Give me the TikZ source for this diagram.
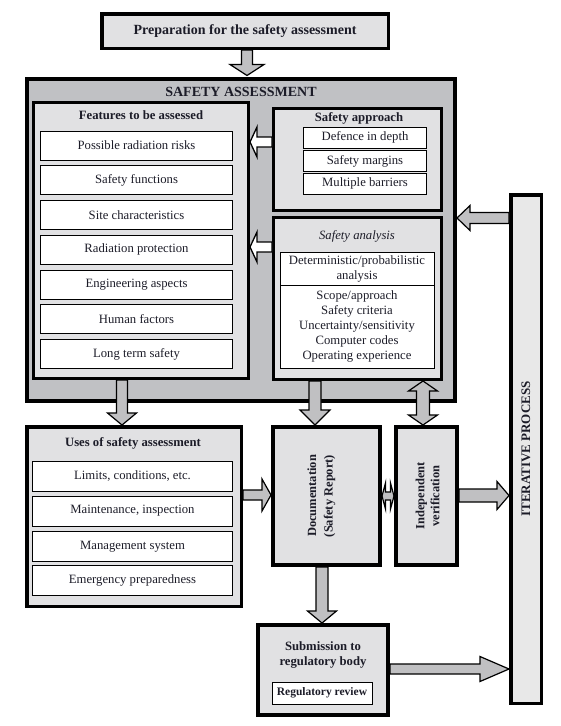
\documentclass[tikz,border=0pt]{standalone}
\usepackage{fontspec}
\setmainfont{Liberation Serif}
\usepackage{graphicx}
\usetikzlibrary{calc}
\definecolor{sagray}{HTML}{C0C1C4}
\definecolor{boxgray}{HTML}{E1E1E3}
\definecolor{itgray}{HTML}{E8E8E8}
\definecolor{argray}{HTML}{C0C0C2}
\definecolor{txt}{HTML}{1C1C28}
\newcommand\fitem{\fontsize{12.7}{15}\selectfont}
\newcommand\ftitle{\fontsize{12.7}{15}\selectfont\bfseries}
\newcommand\fprep{\fontsize{14}{16}\selectfont\bfseries}
\newcommand\fiter{\fontsize{13}{15}\selectfont\bfseries}
\newcommand\frev{\fontsize{11.5}{13}\selectfont\bfseries}
% block arrow: #1 style, #2 from, #3 to, #4 half shaft, #5 half head, #6 head length
\newcommand\blkarrow[6]{%
  \coordinate (ba-h) at ($(#3)!#6!(#2)$);
  \filldraw[#1] ($(#2)!#4!90:(#3)$) -- ($(ba-h)!#4!90:(#3)$) -- ($(ba-h)!#5!90:(#3)$)
    -- (#3) -- ($(ba-h)!#5!-90:(#3)$) -- ($(ba-h)!#4!-90:(#3)$) -- ($(#2)!#4!-90:(#3)$) -- cycle;}
% double block arrow
\newcommand\blkdarrow[6]{%
  \coordinate (ba-a) at ($(#2)!#6!(#3)$);
  \coordinate (ba-b) at ($(#3)!#6!(#2)$);
  \filldraw[#1] (#2) -- ($(ba-a)!#5!90:(#3)$) -- ($(ba-a)!#4!90:(#3)$) -- ($(ba-b)!#4!90:(#3)$)
    -- ($(ba-b)!#5!90:(#3)$) -- (#3) -- ($(ba-b)!#5!-90:(#3)$) -- ($(ba-b)!#4!-90:(#3)$)
    -- ($(ba-a)!#4!-90:(#3)$) -- ($(ba-a)!#5!-90:(#3)$) -- cycle;}
\begin{document}
\begin{tikzpicture}[x=1pt,y=-1pt,
  every node/.style={text=txt},
  box/.style={draw=black, line width=3.5pt, fill=boxgray, inner sep=0pt},
  item/.style={draw=black, line width=0.9pt, fill=white, inner sep=0pt, font=\fitem},
  garrow/.style={draw=black, fill=argray, line width=1.2pt},
  warrow/.style={draw=black, fill=white, line width=1.3pt}]
\fill[white] (0,0) rectangle (560,726);
\useasboundingbox (0,0) rectangle (560,726);

% top
\node[box, minimum width=286.5pt, minimum height=34.5pt, font=\fprep] (prep) at (245,31) {Preparation for the safety assessment};

% safety assessment
\node[box, line width=4pt, fill=sagray, minimum width=428pt, minimum height=322pt] (sa) at (241,239.5) {};
\node[font=\fprep] (satitle) at (241,92) {SAFETY ASSESSMENT};

% features
\node[box, line width=3pt, minimum width=215pt, minimum height=276pt] (feat) at (141,240.5) {};
\node[font=\ftitle] (feattitle) at (141,115) {Features to be assessed};
\foreach \t [count=\i] in {Possible radiation risks, Safety functions, Site characteristics, Radiation protection, Engineering aspects, Human factors, Long term safety}
  \node[item, minimum width=192pt, minimum height=29pt] (f\i) at (136.5,{145.5+34.75*(\i-1)}) {\t};

% safety approach
\node[box, line width=3pt, minimum width=168pt, minimum height=102pt] (appr) at (357.5,159.5) {};
\node[font=\ftitle] (apprtitle) at (359,118) {Safety approach};
\node[item, minimum width=123pt, minimum height=21pt] (ap1) at (365,137.5) {Defence in depth};
\node[item, minimum width=123pt, minimum height=21pt] (ap2) at (365,161) {Safety margins};
\node[item, minimum width=123pt, minimum height=21pt] (ap3) at (365,183.5) {Multiple barriers};

% safety analysis
\node[box, line width=3pt, minimum width=168pt, minimum height=162pt] (anal) at (357.5,298.5) {};
\node[font=\fitem\itshape] (analtitle) at (357,236) {Safety analysis};
\node[item, minimum width=154pt, minimum height=33pt, align=center] (an1) at (357,268.5) {Deterministic/probabilistic\\analysis};
\node[item, minimum width=154pt, minimum height=83pt, align=center, font=\fontsize{12.7}{14.8}\selectfont] (an2) at (357,326.5) {Scope/approach\\Safety criteria\\Uncertainty/sensitivity\\Computer codes\\Operating experience};

% iterative process
\node[box, fill=itgray, minimum width=30.5pt, minimum height=508.5pt] (iter) at (526,449) {};
\node[rotate=90, font=\fiter] (iterl) at (526,449) {ITERATIVE PROCESS};

% uses
\node[box, minimum width=214.5pt, minimum height=179.5pt] (uses) at (134,516.5) {};
\node[font=\ftitle] (usestitle) at (133,443) {Uses of safety assessment};
\node[item, minimum width=200pt, minimum height=30pt] (u1) at (132.5,476.5) {Limits, conditions, etc.};
\node[item, minimum width=200pt, minimum height=30pt] (u2) at (132.5,511) {Maintenance, inspection};
\node[item, minimum width=200pt, minimum height=30pt] (u3) at (132.5,546.5) {Management system};
\node[item, minimum width=200pt, minimum height=30pt] (u4) at (132.5,580.5) {Emergency preparedness};

% documentation and verification
\node[box, line width=4pt, minimum width=107pt, minimum height=138pt] (doc) at (326.5,496) {};
\node[rotate=90, font=\fontsize{12.5}{16.5}\selectfont\bfseries, align=center] (docl) at (321.5,496) {Documentation\\(Safety Report)};
\node[box, line width=4pt, minimum width=61pt, minimum height=138pt] (verif) at (426.5,496) {};
\node[rotate=90, font=\fontsize{12.5}{15}\selectfont\bfseries, align=center] (verl) at (427.5,496) {Independent\\verification};

% submission
\node[box, line width=4pt, minimum width=130pt, minimum height=90pt] (sub) at (323,670) {};
\node[font=\ftitle, align=center] (subl) at (323,654.5) {Submission to\\regulatory body};
\node[draw=black, line width=1pt, fill=white, inner sep=0pt, minimum width=100pt, minimum height=22pt, font=\frev] (rev) at (322,693) {Regulatory review};

% connector end points
\coordinate (a1s) at ($(prep.south)+(2,0)$);
\coordinate (a1e) at ($(sa.north)+(6,-1)$);
\coordinate (a2s) at ($(appr.west)+(0,-17.5)$);
\coordinate (a2e) at (feat.east |- a2s);
\coordinate (a3s) at ($(anal.west)+(0,-51.5)$);
\coordinate (a3e) at (feat.east |- a3s);
\coordinate (a4s) at ($(iter.north west)+(0,25)$);
\coordinate (a4e) at (sa.east |- a4s);
\coordinate (a5s) at ($(feat.south)+(-19,0)$);
\coordinate (a5e) at (uses.north -| a5s);
\coordinate (a6s) at ($(anal.south)+(-42.5,0)$);
\coordinate (a6e) at (doc.north -| a6s);
\coordinate (a7s) at ($(anal.south)+(65.5,0)$);
\coordinate (a7e) at (verif.north -| a7s);
\coordinate (a8s) at ($(uses.east)+(0,-21.5)$);
\coordinate (a8e) at (doc.west |- a8s);
\coordinate (a9s) at (doc.east);
\coordinate (a9e) at (verif.west |- a9s);
\coordinate (a10s) at ($(verif.east)+(0,-0.5)$);
\coordinate (a10e) at (iter.west |- a10s);
\coordinate (a11s) at ($(doc.south)+(-4.5,0)$);
\coordinate (a11e) at (sub.north -| a11s);
\coordinate (a12s) at ($(sub.east)+(0,-1)$);
\coordinate (a12e) at (iter.west |- a12s);

% arrows
\blkarrow{garrow}{a1s}{a1e}{5.5pt}{17pt}{11pt}
\blkarrow{warrow}{a2s}{a2e}{5pt}{15pt}{7pt}
\blkarrow{warrow}{a3s}{a3e}{5pt}{15pt}{7pt}
\blkarrow{garrow}{a4s}{a4e}{5.5pt}{12.5pt}{13pt}
\blkarrow{garrow}{a5s}{a5e}{5.5pt}{14.5pt}{12pt}
\blkarrow{garrow}{a6s}{a6e}{6pt}{15pt}{15pt}
\blkdarrow{garrow}{a7s}{a7e}{6.5pt}{14.5pt}{10pt}
\blkarrow{garrow}{a8s}{a8e}{5pt}{16pt}{9pt}
\blkdarrow{garrow}{a9s}{a9e}{4pt}{13pt}{3.5pt}
\blkarrow{garrow}{a10s}{a10e}{6.5pt}{14pt}{12pt}
\blkarrow{garrow}{a11s}{a11e}{6pt}{14.5pt}{12pt}
\blkarrow{garrow}{a12s}{a12e}{5pt}{12.5pt}{29pt}
\end{tikzpicture}
\end{document}
